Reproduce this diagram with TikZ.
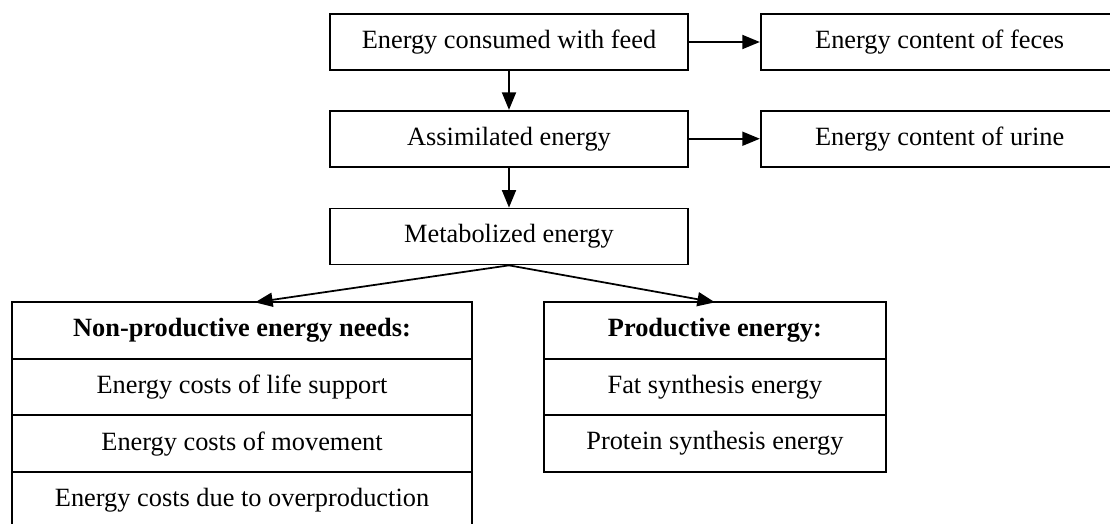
\documentclass[tikz,border=0pt]{standalone}
\usepackage{fontspec}
\setmainfont{Liberation Serif}
\usetikzlibrary{arrows.meta, positioning}

\begin{document}
\begin{tikzpicture}[x=0.02cm,y=-0.02cm,
  B/.style={draw=black,line width=1pt,minimum width=7.16cm,
            minimum height=1.12cm,align=center,
            font=\fontsize{15}{18}\selectfont},
  R/.style={draw=black,line width=1pt,outer sep=0pt,
            minimum height=1.13cm,align=center,
            font=\fontsize{15}{18}\selectfont},
  A/.style={-{Triangle[length=10pt,width=8pt]},line width=1pt}]
\useasboundingbox (0,0) rectangle (1110,524);

\node[B] (feed) at (509,42) {Energy consumed with feed};
\node[B,right=1.42cm of feed] (feces) {Energy content of feces};
\node[B,below=0.78cm of feed] (assim) {Assimilated energy};
\node[B,right=1.42cm of assim] (urine) {Energy content of urine};
\node[B,below=0.8cm of assim] (met) {Metabolized energy};

% Non-productive needs, stacked rows
\node[R,minimum width=9.2cm,below=0.74cm of met,xshift=-5.34cm] (np)
  {\textbf{Non-productive energy needs:}};
\node[R,minimum width=9.2cm,below=0pt of np]  (np1) {Energy costs of life support};
\node[R,minimum width=9.2cm,below=0pt of np1] (np2) {Energy costs of movement};
\node[R,minimum width=9.2cm,below=0pt of np2] (np3) {Energy costs due to overproduction};

% Productive energy, stacked rows
\node[R,minimum width=6.84cm,below=0.74cm of met,xshift=4.12cm] (pr)
  {\textbf{Productive energy:}};
\node[R,minimum width=6.84cm,below=0pt of pr]  (pr1) {Fat synthesis energy};
\node[R,minimum width=6.84cm,below=0pt of pr1] (pr2) {Protein synthesis energy};

\draw[A] (feed.east) -- (feces.west);
\draw[A] (assim.east) -- (urine.west);
\draw[A] (feed.south) -- (assim.north);
\draw[A] (assim.south) -- (met.north);
\draw[A] (met.south) -- ([xshift=0.26cm]np.north);
\draw[A] (met.south) -- (pr.north);
\end{tikzpicture}
\end{document}
